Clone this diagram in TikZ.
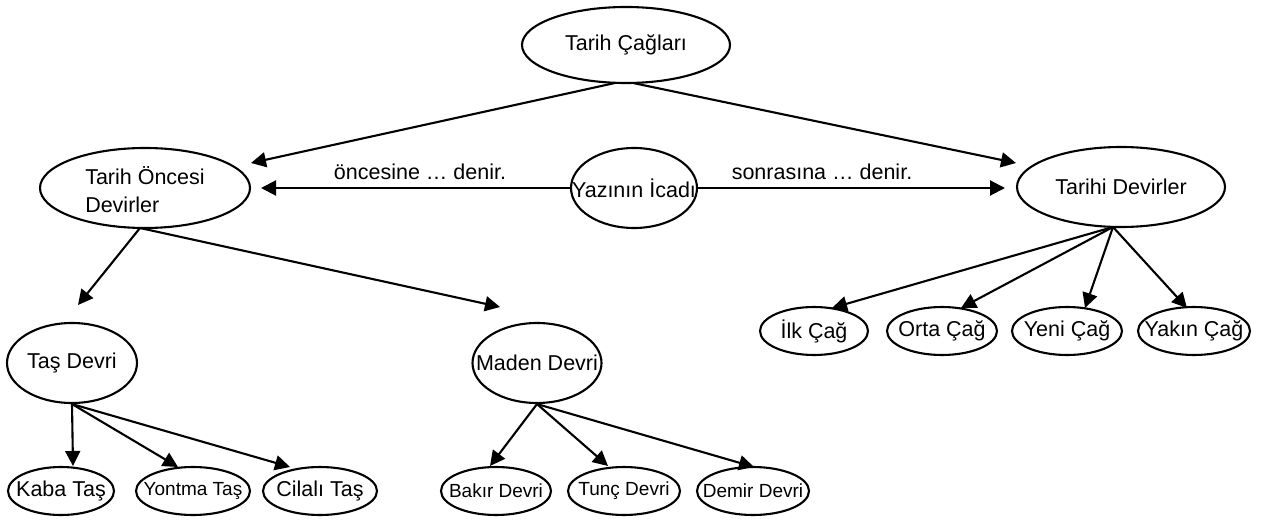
\documentclass[tikz,border=0pt]{standalone}
\usepackage{fontspec}
\setmainfont{Liberation Sans}
\usetikzlibrary{shapes.geometric,arrows.meta}

% zero-width text box, so the ellipse keeps the size it is given
\newcommand{\zbox}[1]{\makebox[0pt]{#1}}

\tikzset{
  era/.style n args={2}{ellipse, draw, line width=2.1pt, inner sep=0pt,
    minimum width=#1pt, minimum height=#2pt,
    font=\fontsize{21.5pt}{25pt}\selectfont},
  smalltext/.style={font=\fontsize{19pt}{23pt}\selectfont},
  link/.style={draw, line width=2.1pt, line join=round,
    -{Triangle[length=15pt,width=15pt]}},
  note/.style={inner sep=0pt, font=\fontsize{21.5pt}{25pt}\selectfont}
}

\begin{document}
\begin{tikzpicture}[x=1pt,y=-1pt]
  \fill[white] (0,0) rectangle (1271,521);
  \useasboundingbox (0,0) rectangle (1271,521);

  % top level
  \node[era={208}{76}] (tc) at (626,45) {\zbox{Tarih Çağları}};

  % second level
  \node[era={210}{80}] (tod) at (145,188)
    {\zbox{\raisebox{-10pt}[0pt][0pt]{\begin{tabular}{@{}l@{}}Tarih Öncesi\\[3pt]Devirler\end{tabular}}}};
  \node[era={126}{80}] (yi) at (634,188) {\zbox{Yazının İcadı}};
  \node[era={208}{80}] (td) at (1121,187) {\zbox{Tarihi Devirler}};

  % ages of written history
  \node[era={108}{48}] (ilk) at (814,331) {\zbox{İlk Çağ}};
  \node[era={110}{48}] (orta) at (942,331) {\zbox{Orta Çağ}};
  \node[era={110}{48}] (yeni) at (1067,331) {\zbox{Yeni Çağ}};
  \node[era={112}{48}] (yakin) at (1194,331) {\zbox{Yakın Çağ}};

  % prehistory
  \node[era={130}{80}] (tas) at (72,363) {\zbox{Taş Devri}};
  \node[era={129}{80}] (md) at (537,363) {\zbox{Maden Devri}};

  \node[era={106}{48}] (kaba) at (61,491) {\zbox{Kaba Taş}};
  \node[era={114}{48},smalltext] (yontma) at (193,491) {\zbox{\raisebox{3pt}{Yontma Taş}}};
  \node[era={114}{48}] (cilali) at (320,491) {\zbox{Cilalı Taş}};

  \node[era={110}{48},smalltext] (bakir) at (496,491) {\zbox{Bakır Devri}};
  \node[era={112}{48},smalltext] (tunc) at (624,491) {\zbox{Tunç Devri}};
  \node[era={112}{48},smalltext] (demir) at (753,491) {\zbox{Demir Devri}};

  % labels on the horizontal arrows
  \node[note] (before) at (420,172) {öncesine … denir.};
  \node[note] (after) at (822,172) {sonrasına … denir.};

  % connectors
  \draw[link] ([shift={(-11,38)}]tc.center) -- ([shift={(106,-25)}]tod.center);
  \draw[link] ([shift={(7,38)}]tc.center) -- ([shift={(-105,-24)}]td.center);
  \draw[link] (yi.west) -- ([shift={(116,0)}]tod.center);
  \draw[link] (yi.east) -- ([shift={(-116,1)}]td.center);

  \draw[link] ([shift={(-5,40)}]tod.center) -- ([shift={(6,-58)}]tas.center);
  \draw[link] ([shift={(-5,40)}]tod.center) -- ([shift={(-37,-56)}]md.center);

  \draw[link] (tas.south) -- ([shift={(12,-25)}]kaba.center);
  \draw[link] (tas.south) -- ([shift={(-15,-24)}]yontma.center);
  \draw[link] (tas.south) -- ([shift={(-30,-24)}]cilali.center);

  \draw[link] (md.south) -- ([shift={(-6,-25)}]bakir.center);
  \draw[link] (md.south) -- ([shift={(-16,-25)}]tunc.center);
  \draw[link] (md.south) -- ([shift={(1,-24)}]demir.center);

  \draw[link] ([shift={(-8,40)}]td.center) -- ([shift={(18,-23)}]ilk.center);
  \draw[link] ([shift={(-8,40)}]td.center) -- ([shift={(19,-23)}]orta.center);
  \draw[link] ([shift={(-8,40)}]td.center) -- ([shift={(18,-23)}]yeni.center);
  \draw[link] ([shift={(-8,40)}]td.center) -- ([shift={(-7,-23)}]yakin.center);
\end{tikzpicture}
\end{document}
